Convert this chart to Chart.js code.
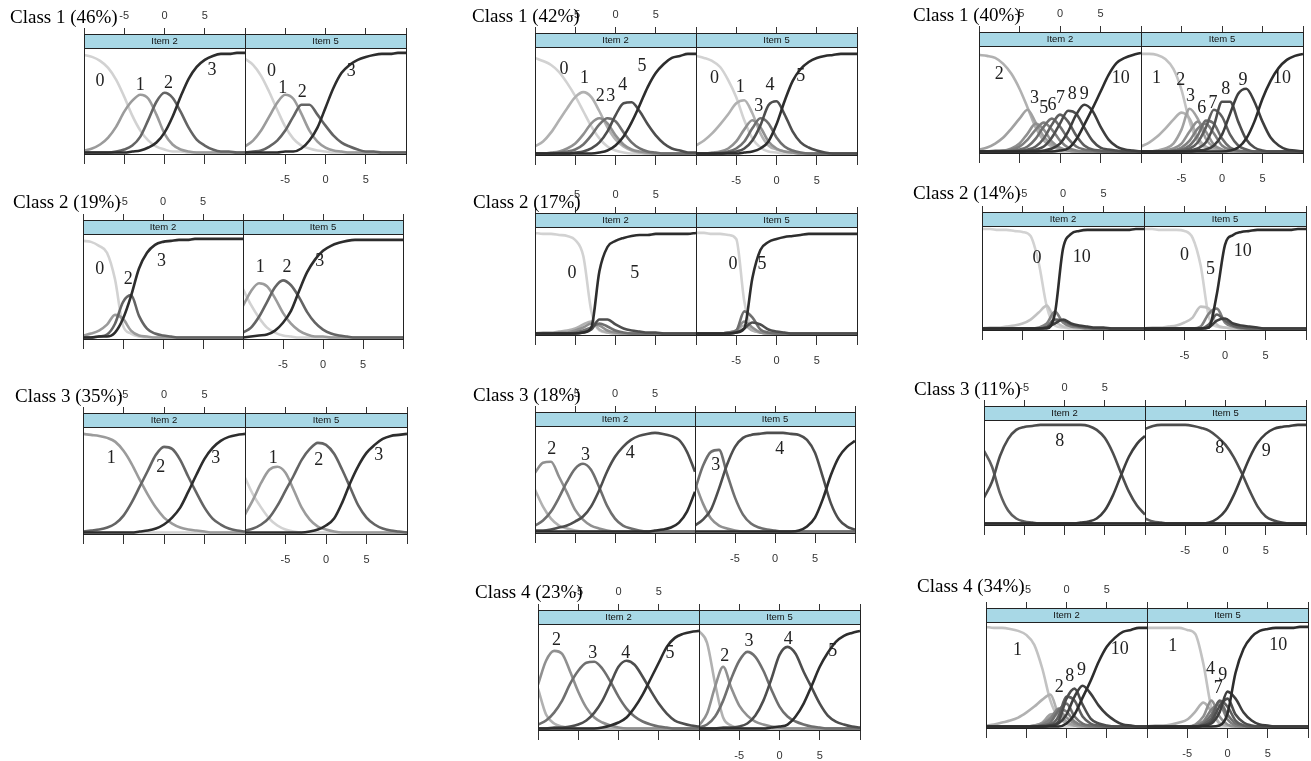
<!DOCTYPE html>
<html>
<head>
<meta charset="utf-8">
<script src="https://cdn.jsdelivr.net/npm/chart.js@4.4.1/dist/chart.umd.min.js"></script>
<style>
  body { margin: 0; background: #fff; width: 1311px; height: 761px; overflow: hidden; position: relative; }
  canvas { position: absolute; }
  .ttl { position: absolute; font-family: 'Liberation Serif', 'Times New Roman', serif; font-size: 19px;
         line-height: 19px; color: #000; white-space: nowrap; z-index: 2; }
</style>
</head>
<body>
<script>
// latent trait grid shared by every curve
const X = [-10,-9,-8,-7,-6,-5,-4,-3,-2,-1,0,1,2,3,4,5,6,7,8,9,10];
const ZERO = [0,0,0,0,0,0,0,0,0,0,0,0,0,0,0,0,0,0,0,0,0];
const stripNames = ['Item 2', 'Item 5'];
const tickShown = [-5, 0, 5];
const classTitles = ['Class 1 (46%)', 'Class 2 (19%)', 'Class 3 (35%)',
  'Class 1 (42%)', 'Class 2 (17%)', 'Class 3 (18%)', 'Class 4 (23%)',
  'Class 1 (40%)', 'Class 2 (14%)', 'Class 3 (11%)', 'Class 4 (34%)'];

// ---- left column, categories 0-3 ----
const a1_i2 = [
  [0, [0.98,0.96,0.92,0.85,0.73,0.56,0.37,0.22,0.12,0.06,0.03,0.01,0.01,0,0,0,0,0,0,0,0]],
  [1, [0.02,0.04,0.08,0.15,0.26,0.41,0.52,0.58,0.54,0.38,0.19,0.08,0.03,0.01,0,0,0,0,0,0,0]],
  [2, [0,0,0,0,0.01,0.03,0.07,0.16,0.33,0.51,0.60,0.55,0.41,0.25,0.13,0.07,0.03,0.01,0.01,0,0]],
  [3, [0,0,0,0,0,0,0.01,0.02,0.05,0.10,0.20,0.36,0.56,0.74,0.86,0.93,0.97,0.99,0.99,1,1]]
];
const a1_i2_lab = [['0',-8,0.72],['1',-3,0.68],['2',0.5,0.70],['3',5.9,0.83]];
const a1_i5 = [
  [0, [0.94,0.88,0.77,0.61,0.43,0.26,0.14,0.07,0.04,0.02,0.01,0,0,0,0,0,0,0,0,0,0]],
  [1, [0.06,0.12,0.22,0.36,0.50,0.58,0.54,0.39,0.22,0.11,0.05,0.02,0.01,0,0,0,0,0,0,0,0]],
  [2, [0,0.01,0.02,0.06,0.12,0.22,0.36,0.48,0.48,0.38,0.27,0.17,0.10,0.06,0.03,0.01,0.01,0,0,0,0]],
  [3, [0,0,0,0,0,0.01,0.01,0.04,0.12,0.25,0.45,0.65,0.80,0.88,0.93,0.96,0.98,0.99,0.99,1,1]]
];
const a1_i5_lab = [['0',-6.7,0.82],['1',-5.3,0.65],['2',-2.9,0.6],['3',3.2,0.82]];

const a2_i2 = [
  [0, [0.98,0.97,0.93,0.86,0.59,0.12,0.04,0.01,0,0,0,0,0,0,0,0,0,0,0,0,0]],
  [1, [0.02,0.04,0.07,0.13,0.23,0.19,0.07,0.02,0.01,0,0,0,0,0,0,0,0,0,0,0,0]],
  [2, [0,0,0.01,0.03,0.14,0.36,0.43,0.22,0.09,0.04,0.02,0.01,0,0,0,0,0,0,0,0,0]],
  [3, [0,0,0.01,0.01,0.05,0.19,0.42,0.70,0.86,0.94,0.97,0.98,0.99,0.99,1,1,1,1,1,1,1]]
];
const a2_i2_lab = [['0',-7.9,0.69],['2',-4.35,0.59],['3',-0.2,0.77]];
const a2_i5 = [
  [0, [0.49,0.33,0.20,0.10,0.05,0.02,0.01,0,0,0,0,0,0,0,0,0,0,0,0,0,0]],
  [1, [0.32,0.47,0.55,0.52,0.40,0.25,0.14,0.07,0.03,0.01,0.01,0,0,0,0,0,0,0,0,0,0]],
  [2, [0.05,0.10,0.21,0.36,0.51,0.58,0.53,0.41,0.26,0.15,0.08,0.04,0.02,0.01,0,0,0,0,0,0,0]],
  [3, [0,0.01,0.02,0.03,0.07,0.15,0.27,0.47,0.66,0.79,0.88,0.93,0.96,0.98,0.99,0.99,0.99,0.99,0.99,0.99,0.99]]
];
const a2_i5_lab = [['1',-7.85,0.71],['2',-4.5,0.71],['3',-0.4,0.77]];

const a3_i2 = [
  [0, ZERO],
  [1, [0.99,0.98,0.97,0.95,0.91,0.82,0.69,0.53,0.38,0.25,0.15,0.09,0.05,0.03,0.02,0.01,0,0,0,0,0]],
  [2, [0.01,0.02,0.03,0.05,0.09,0.17,0.30,0.46,0.62,0.78,0.86,0.84,0.73,0.56,0.40,0.25,0.14,0.08,0.04,0.02,0.01]],
  [3, [0,0,0,0,0,0,0,0.01,0.02,0.04,0.08,0.15,0.25,0.41,0.58,0.74,0.85,0.92,0.96,0.98,0.99]]
];
const a3_i2_lab = [['1',-6.5,0.75],['2',-0.4,0.66],['3',6.4,0.75]];
const a3_i5 = [
  [0, [0.55,0.38,0.25,0.14,0.07,0.03,0.01,0,0,0,0,0,0,0,0,0,0,0,0,0,0]],
  [1, [0.18,0.33,0.50,0.63,0.66,0.60,0.43,0.25,0.13,0.06,0.03,0.01,0,0,0,0,0,0,0,0,0]],
  [2, [0.02,0.04,0.08,0.15,0.27,0.42,0.57,0.73,0.84,0.90,0.88,0.79,0.63,0.45,0.27,0.15,0.08,0.04,0.02,0.01,0]],
  [3, [0,0,0,0,0,0,0,0,0.01,0.03,0.07,0.14,0.30,0.50,0.67,0.80,0.88,0.94,0.97,0.98,0.99]]
];
const a3_i5_lab = [['1',-6.5,0.75],['2',-0.9,0.73],['3',6.5,0.78]];

// ---- middle column, categories 0-5 ----
const b1_i2 = [
  [0, [0.95,0.92,0.88,0.81,0.70,0.57,0.42,0.27,0.15,0.07,0.03,0.01,0,0,0,0,0,0,0,0,0]],
  [1, [0.07,0.12,0.21,0.33,0.45,0.56,0.61,0.56,0.42,0.26,0.14,0.07,0.03,0.01,0,0,0,0,0,0,0]],
  [2, [0,0,0.01,0.02,0.05,0.10,0.19,0.30,0.35,0.30,0.18,0.09,0.04,0.02,0.01,0,0,0,0,0,0]],
  [3, [0,0,0,0.01,0.02,0.04,0.09,0.18,0.29,0.35,0.32,0.21,0.11,0.05,0.02,0.01,0,0,0,0,0]],
  [4, [0,0,0,0,0,0.01,0.02,0.05,0.11,0.22,0.38,0.50,0.51,0.42,0.29,0.18,0.10,0.05,0.03,0.01,0.01]],
  [5, [0,0,0,0,0,0,0,0,0.01,0.03,0.08,0.17,0.31,0.48,0.66,0.80,0.89,0.95,0.97,0.99,0.99]]
];
const b1_i2_lab = [['0',-6.4,0.84],['1',-3.85,0.75],['2',-1.9,0.57],['3',-0.6,0.57],['4',0.9,0.68],['5',3.3,0.87]];
const b1_i5 = [
  [0, [0.97,0.95,0.92,0.86,0.73,0.56,0.33,0.15,0.06,0.02,0.01,0,0,0,0,0,0,0,0,0,0]],
  [1, [0.08,0.13,0.20,0.29,0.39,0.50,0.53,0.40,0.20,0.08,0.04,0.02,0.01,0,0,0,0,0,0,0,0]],
  [2, [0,0,0.01,0.02,0.05,0.12,0.24,0.33,0.26,0.12,0.05,0.02,0.01,0,0,0,0,0,0,0,0]],
  [3, [0,0,0,0.01,0.02,0.05,0.12,0.25,0.35,0.30,0.16,0.07,0.03,0.01,0,0,0,0,0,0,0]],
  [4, [0,0,0,0,0.01,0.02,0.05,0.13,0.28,0.48,0.52,0.39,0.22,0.11,0.06,0.03,0.01,0,0,0,0]],
  [5, [0,0,0,0,0,0,0.01,0.02,0.05,0.12,0.29,0.52,0.72,0.84,0.91,0.95,0.97,0.98,0.99,0.99,0.99]]
];
const b1_i5_lab = [['0',-7.7,0.75],['1',-4.5,0.66],['3',-2.2,0.47],['4',-0.8,0.68],['5',3.0,0.77]];

const b2_i2 = [
  [0, [1,0.99,0.99,0.98,0.97,0.93,0.77,0.22,0.03,0.01,0,0,0,0,0,0,0,0,0,0,0]],
  [1, [0,0.01,0.01,0.02,0.03,0.05,0.09,0.12,0.04,0.01,0,0,0,0,0,0,0,0,0,0,0]],
  [2, [0,0,0,0.01,0.01,0.03,0.06,0.10,0.08,0.03,0.01,0,0,0,0,0,0,0,0,0,0]],
  [3, [0,0,0,0,0,0.01,0.03,0.06,0.10,0.07,0.03,0.01,0,0,0,0,0,0,0,0,0]],
  [4, [0,0,0,0,0,0,0.01,0.04,0.14,0.14,0.09,0.05,0.03,0.02,0.01,0.01,0,0,0,0,0]],
  [5, [0,0,0,0,0,0,0.01,0.06,0.62,0.86,0.92,0.95,0.97,0.98,0.98,0.99,0.99,0.99,0.99,0.99,1]]
];
const b2_i2_lab = [['0',-5.4,0.6],['5',2.4,0.6]];
const b2_i5 = [
  [0, [1,1,0.99,0.99,0.98,0.94,0.32,0.04,0.01,0,0,0,0,0,0,0,0,0,0,0,0]],
  [1, [0,0,0,0,0.01,0.03,0.08,0.03,0.01,0,0,0,0,0,0,0,0,0,0,0,0]],
  [2, [0,0,0,0,0.01,0.03,0.12,0.06,0.01,0,0,0,0,0,0,0,0,0,0,0,0]],
  [3, [0,0,0,0,0.01,0.03,0.22,0.16,0.04,0.01,0,0,0,0,0,0,0,0,0,0,0]],
  [4, [0,0,0,0,0,0.01,0.05,0.11,0.09,0.04,0.02,0.01,0,0,0,0,0,0,0,0,0]],
  [5, [0,0,0,0,0,0.01,0.05,0.55,0.83,0.91,0.94,0.96,0.97,0.98,0.99,0.99,0.99,0.99,0.99,0.99,0.99]]
];
const b2_i5_lab = [['0',-5.4,0.69],['5',-1.8,0.69]];

const b3_i2 = [
  [0, ZERO],
  [1, [0.42,0.25,0.13,0.06,0.03,0.01,0,0,0,0,0,0,0,0,0,0,0,0,0,0,0]],
  [2, [0.59,0.69,0.70,0.55,0.39,0.22,0.12,0.06,0.03,0.01,0,0,0,0,0,0,0,0,0,0,0]],
  [3, [0.06,0.11,0.20,0.34,0.50,0.63,0.68,0.62,0.45,0.26,0.13,0.06,0.03,0.01,0,0,0,0,0,0,0]],
  [4, [0.01,0.01,0.02,0.04,0.06,0.10,0.15,0.25,0.41,0.60,0.75,0.85,0.92,0.96,0.98,0.99,0.98,0.96,0.92,0.80,0.60]],
  [5, [0,0,0,0,0,0,0,0,0,0,0,0,0,0,0,0.01,0.02,0.04,0.09,0.20,0.40]]
];
const b3_i2_lab = [['2',-7.9,0.83],['3',-3.7,0.77],['4',1.9,0.79]];
const b3_i5 = [
  [0, ZERO],
  [2, [0.49,0.28,0.13,0.06,0.03,0.01,0,0,0,0,0,0,0,0,0,0,0,0,0,0,0]],
  [3, [0.42,0.66,0.80,0.82,0.58,0.34,0.17,0.08,0.04,0.02,0.01,0,0,0,0,0,0,0,0,0,0]],
  [4, [0.06,0.12,0.22,0.43,0.67,0.85,0.94,0.97,0.98,0.99,0.99,0.99,0.98,0.97,0.92,0.79,0.54,0.28,0.12,0.05,0.02]],
  [5, [0,0,0,0,0,0,0,0,0,0,0,0,0,0.01,0.05,0.14,0.33,0.57,0.75,0.85,0.91]]
];
const b3_i5_lab = [['3',-7.4,0.67],['4',0.6,0.83]];

const b4_i2 = [
  [0, ZERO],
  [1, [0.40,0.14,0.05,0.02,0.01,0,0,0,0,0,0,0,0,0,0,0,0,0,0,0,0]],
  [2, [0.44,0.68,0.78,0.75,0.57,0.37,0.21,0.11,0.06,0.03,0.01,0,0,0,0,0,0,0,0,0,0]],
  [3, [0.04,0.08,0.16,0.28,0.45,0.58,0.66,0.67,0.60,0.47,0.32,0.20,0.12,0.07,0.04,0.02,0.01,0,0,0,0]],
  [4, [0,0,0.01,0.01,0.02,0.04,0.08,0.16,0.28,0.45,0.62,0.68,0.64,0.52,0.38,0.25,0.15,0.08,0.05,0.03,0.02]],
  [5, [0,0,0,0,0,0,0,0,0.01,0.03,0.06,0.11,0.21,0.34,0.50,0.66,0.82,0.91,0.95,0.97,0.98]]
];
const b4_i2_lab = [['2',-7.7,0.89],['3',-3.2,0.76],['4',0.9,0.76],['5',6.4,0.76]];
const b4_i5 = [
  [0, ZERO],
  [1, [0.98,0.86,0.45,0.11,0.03,0.01,0,0,0,0,0,0,0,0,0,0,0,0,0,0,0]],
  [2, [0.03,0.15,0.42,0.62,0.41,0.23,0.13,0.07,0.04,0.02,0.01,0,0,0,0,0,0,0,0,0,0]],
  [3, [0.01,0.04,0.12,0.28,0.50,0.68,0.77,0.72,0.58,0.39,0.22,0.12,0.07,0.04,0.02,0.01,0,0,0,0,0]],
  [4, [0,0,0,0.01,0.01,0.02,0.05,0.13,0.28,0.50,0.74,0.82,0.75,0.57,0.41,0.25,0.13,0.07,0.04,0.02,0.01]],
  [5, [0,0,0,0,0,0,0,0,0,0.01,0.02,0.04,0.12,0.25,0.43,0.62,0.76,0.87,0.93,0.96,0.98]]
];
const b4_i5_lab = [['2',-6.8,0.73],['3',-3.8,0.88],['4',1.1,0.9],['5',6.6,0.78]];

// ---- right column, categories 0-10 ----
const c1_i2 = [
  [0, ZERO], [1, ZERO],
  [2, [0.97,0.96,0.94,0.88,0.78,0.63,0.44,0.24,0.11,0.05,0.02,0.01,0,0,0,0,0,0,0,0,0]],
  [3, [0.02,0.04,0.08,0.14,0.23,0.33,0.42,0.29,0.15,0.07,0.03,0.01,0,0,0,0,0,0,0,0,0]],
  [4, [0,0,0.01,0.01,0.03,0.08,0.18,0.28,0.22,0.10,0.04,0.01,0,0,0,0,0,0,0,0,0]],
  [5, [0,0,0,0.01,0.02,0.05,0.12,0.22,0.29,0.22,0.11,0.04,0.01,0,0,0,0,0,0,0,0]],
  [6, [0,0,0,0,0.01,0.02,0.05,0.13,0.25,0.33,0.25,0.13,0.05,0.02,0.01,0,0,0,0,0,0]],
  [7, [0,0,0,0,0,0.01,0.02,0.05,0.13,0.27,0.37,0.30,0.16,0.06,0.02,0.01,0,0,0,0,0]],
  [8, [0,0,0,0,0,0,0.01,0.02,0.05,0.14,0.28,0.41,0.38,0.24,0.11,0.04,0.02,0.01,0,0,0]],
  [9, [0,0,0,0,0,0,0,0,0.01,0.03,0.08,0.20,0.37,0.47,0.41,0.25,0.12,0.05,0.02,0.01,0]],
  [10, [0,0,0,0,0,0,0,0,0,0,0.01,0.03,0.12,0.27,0.43,0.60,0.77,0.89,0.94,0.97,0.99]]
];
const c1_i2_lab = [['2',-7.5,0.78],['3',-3.15,0.53],['5',-2.0,0.43],['6',-1.0,0.46],['7',0.05,0.53],
  ['8',1.5,0.57],['9',3.0,0.57],['10',7.5,0.74]];
const c1_i5 = [
  [0, ZERO],
  [1, [0.98,0.98,0.97,0.93,0.83,0.62,0.30,0.10,0.04,0.02,0.01,0,0,0,0,0,0,0,0,0,0]],
  [2, [0.05,0.09,0.15,0.23,0.32,0.39,0.33,0.14,0.05,0.02,0.01,0,0,0,0,0,0,0,0,0,0]],
  [3, [0,0,0.01,0.03,0.08,0.22,0.43,0.33,0.13,0.04,0.01,0,0,0,0,0,0,0,0,0,0]],
  [4, [0,0,0,0.01,0.03,0.08,0.20,0.30,0.20,0.07,0.02,0,0,0,0,0,0,0,0,0,0]],
  [5, [0,0,0,0,0.01,0.04,0.11,0.23,0.28,0.18,0.06,0.02,0,0,0,0,0,0,0,0,0]],
  [6, [0,0,0,0,0.01,0.02,0.06,0.16,0.31,0.28,0.13,0.04,0.01,0,0,0,0,0,0,0,0]],
  [7, [0,0,0,0,0,0.01,0.03,0.09,0.24,0.42,0.35,0.17,0.06,0.02,0,0,0,0,0,0,0]],
  [8, [0,0,0,0,0,0,0.01,0.03,0.09,0.26,0.50,0.50,0.30,0.12,0.04,0.01,0,0,0,0,0]],
  [9, [0,0,0,0,0,0,0,0.01,0.02,0.06,0.17,0.38,0.58,0.63,0.50,0.30,0.14,0.06,0.02,0.01,0]],
  [10, [0,0,0,0,0,0,0,0,0,0,0,0.01,0.04,0.13,0.30,0.53,0.71,0.84,0.92,0.96,0.98]]
];
const c1_i5_lab = [['1',-8.1,0.74],['2',-5.1,0.72],['3',-3.9,0.55],['6',-2.5,0.43],['7',-1.1,0.48],
  ['8',0.45,0.62],['9',2.6,0.72],['10',7.4,0.74]];

const c2_i2 = [
  [0, [1,1,0.99,0.99,0.98,0.97,0.93,0.66,0.22,0.03,0.01,0,0,0,0,0,0,0,0,0,0]],
  [1, [0,0.01,0.01,0.02,0.03,0.05,0.09,0.16,0.23,0.08,0.02,0.01,0,0,0,0,0,0,0,0,0]],
  [5, [0,0,0,0,0,0,0,0.01,0.05,0.17,0.06,0.02,0.01,0,0,0,0,0,0,0,0]],
  [7, [0,0,0,0,0,0,0,0,0.02,0.09,0.08,0.04,0.02,0.01,0,0,0,0,0,0,0]],
  [9, [0,0,0,0,0,0,0,0,0.01,0.05,0.09,0.05,0.03,0.02,0.01,0.01,0,0,0,0,0]],
  [10, [0,0,0,0,0,0,0,0,0,0.15,0.80,0.95,0.98,0.99,0.99,0.99,0.99,0.99,0.99,1,1]]
];
const c2_i2_lab = [['0',-3.2,0.71],['10',2.3,0.72]];
const c2_i5 = [
  [0, [1,1,0.99,0.99,0.99,0.98,0.91,0.63,0.12,0.02,0.01,0,0,0,0,0,0,0,0,0,0]],
  [1, [0,0.01,0.01,0.02,0.03,0.06,0.11,0.22,0.20,0.04,0.01,0,0,0,0,0,0,0,0,0,0]],
  [5, [0,0,0,0,0,0,0,0.02,0.15,0.20,0.06,0.02,0,0,0,0,0,0,0,0,0]],
  [7, [0,0,0,0,0,0,0,0,0.04,0.14,0.08,0.03,0.01,0,0,0,0,0,0,0,0]],
  [9, [0,0,0,0,0,0,0,0,0.01,0.08,0.10,0.05,0.03,0.02,0.01,0,0,0,0,0,0]],
  [10, [0,0,0,0,0,0,0,0,0.01,0.35,0.84,0.94,0.97,0.98,0.99,0.99,0.99,0.99,0.99,1,1]]
];
const c2_i5_lab = [['0',-5.0,0.74],['5',-1.8,0.59],['10',2.2,0.78]];

const c3_i2 = [
  [0, ZERO], [10, ZERO],
  [7, [0.73,0.57,0.30,0.13,0.05,0.02,0.01,0,0,0,0,0,0,0,0,0,0,0,0,0,0]],
  [8, [0.26,0.42,0.68,0.85,0.94,0.97,0.98,0.99,0.99,0.99,0.99,0.99,0.99,0.98,0.94,0.86,0.71,0.51,0.32,0.18,0.09]],
  [9, [0,0,0,0,0,0,0,0,0,0,0,0,0.01,0.02,0.05,0.13,0.28,0.48,0.67,0.80,0.88]]
];
const c3_i2_lab = [['8',-0.6,0.83]];
const c3_i5 = [
  [0, ZERO], [10, ZERO],
  [7, [0.05,0.02,0.01,0,0,0,0,0,0,0,0,0,0,0,0,0,0,0,0,0,0]],
  [8, [0.95,0.98,0.99,0.99,0.99,0.99,0.98,0.96,0.93,0.87,0.79,0.67,0.51,0.33,0.17,0.07,0.03,0.01,0,0,0]],
  [9, [0,0,0,0,0,0,0,0,0.01,0.05,0.13,0.28,0.47,0.66,0.81,0.90,0.95,0.97,0.98,0.99,0.99]]
];
const c3_i5_lab = [['8',-0.7,0.76],['9',5.05,0.73]];

const c4_i2 = [
  [0, ZERO],
  [1, [1,0.99,0.99,0.98,0.96,0.92,0.82,0.58,0.26,0.09,0.03,0.01,0,0,0,0,0,0,0,0,0]],
  [2, [0.01,0.02,0.04,0.06,0.09,0.14,0.20,0.27,0.32,0.12,0.03,0.01,0,0,0,0,0,0,0,0,0]],
  [3, [0,0,0,0,0,0,0.01,0.04,0.12,0.13,0.05,0.01,0,0,0,0,0,0,0,0,0]],
  [4, [0,0,0,0,0,0,0.01,0.03,0.09,0.16,0.09,0.03,0.01,0,0,0,0,0,0,0,0]],
  [5, [0,0,0,0,0,0,0,0.02,0.07,0.18,0.15,0.05,0.01,0,0,0,0,0,0,0,0]],
  [6, [0,0,0,0,0,0,0,0.01,0.04,0.16,0.23,0.10,0.03,0.01,0,0,0,0,0,0,0]],
  [7, [0,0,0,0,0,0,0,0.01,0.02,0.10,0.30,0.26,0.10,0.03,0.01,0,0,0,0,0,0]],
  [8, [0,0,0,0,0,0,0,0,0.01,0.05,0.28,0.38,0.22,0.08,0.03,0.01,0,0,0,0,0]],
  [9, [0,0,0,0,0,0,0,0,0.01,0.03,0.12,0.30,0.41,0.33,0.21,0.12,0.06,0.02,0.01,0,0]],
  [10, [0,0,0,0,0,0,0,0,0,0,0.03,0.12,0.29,0.46,0.65,0.80,0.89,0.95,0.97,0.99,0.99]]
];
const c4_i2_lab = [['1',-6.1,0.77],['2',-0.9,0.39],['8',0.4,0.5],['9',1.85,0.56],['10',6.6,0.78]];
const c4_i5 = [
  [0, ZERO],
  [1, [0.99,0.99,0.99,0.99,0.99,0.97,0.93,0.63,0.19,0.04,0.01,0,0,0,0,0,0,0,0,0,0]],
  [2, [0,0.01,0.01,0.02,0.04,0.07,0.15,0.24,0.15,0.03,0.01,0,0,0,0,0,0,0,0,0,0]],
  [4, [0,0,0,0,0,0,0.02,0.10,0.26,0.10,0.02,0,0,0,0,0,0,0,0,0,0]],
  [5, [0,0,0,0,0,0,0.01,0.05,0.17,0.22,0.07,0.01,0,0,0,0,0,0,0,0,0]],
  [6, [0,0,0,0,0,0,0,0.03,0.12,0.25,0.12,0.03,0.01,0,0,0,0,0,0,0,0]],
  [7, [0,0,0,0,0,0,0,0.02,0.08,0.26,0.20,0.06,0.01,0,0,0,0,0,0,0,0]],
  [8, [0,0,0,0,0,0,0,0.01,0.05,0.20,0.28,0.12,0.04,0.01,0,0,0,0,0,0,0]],
  [9, [0,0,0,0,0,0,0,0.01,0.03,0.14,0.35,0.28,0.14,0.06,0.02,0.01,0,0,0,0,0]],
  [10, [0,0,0,0,0,0,0,0,0,0.01,0.13,0.54,0.78,0.90,0.96,0.98,0.99,0.99,0.99,1,1]]
];
const c4_i5_lab = [['1',-6.8,0.81],['4',-2.1,0.57],['7',-1.15,0.38],['9',-0.6,0.51],['10',6.3,0.82]];

// page layout: one block per class (title spot, panel left edge/width, strip top, y of p=1 and p=0)
const blocks = [
  { title: 0,  tx: 10,  ty: 17,  left: 84,  w: 161, strip: 34,  one: 53,  base: 153, n: 4,  items: [[a1_i2, a1_i2_lab], [a1_i5, a1_i5_lab]] },
  { title: 1,  tx: 13,  ty: 202, left: 83,  w: 160, strip: 220, one: 239, base: 338, n: 4,  items: [[a2_i2, a2_i2_lab], [a2_i5, a2_i5_lab]] },
  { title: 2,  tx: 15,  ty: 396, left: 83,  w: 162, strip: 413, one: 433, base: 533, n: 4,  items: [[a3_i2, a3_i2_lab], [a3_i5, a3_i5_lab]] },
  { title: 3,  tx: 472, ty: 16,  left: 535, w: 161, strip: 33,  one: 53,  base: 154, n: 6,  items: [[b1_i2, b1_i2_lab], [b1_i5, b1_i5_lab]] },
  { title: 4,  tx: 473, ty: 202, left: 535, w: 161, strip: 213, one: 233, base: 334, n: 6,  items: [[b2_i2, b2_i2_lab], [b2_i5, b2_i5_lab]] },
  { title: 5,  tx: 473, ty: 395, left: 535, w: 160, strip: 412, one: 432, base: 532, n: 6,  items: [[b3_i2, b3_i2_lab], [b3_i5, b3_i5_lab]] },
  { title: 6,  tx: 475, ty: 592, left: 538, w: 161, strip: 610, one: 629, base: 729, n: 6,  items: [[b4_i2, b4_i2_lab], [b4_i5, b4_i5_lab]] },
  { title: 7,  tx: 913, ty: 15,  left: 979, w: 162, strip: 32,  one: 52,  base: 152, n: 11, items: [[c1_i2, c1_i2_lab], [c1_i5, c1_i5_lab]] },
  { title: 8,  tx: 913, ty: 193, left: 982, w: 162, strip: 212, one: 229, base: 329, n: 11, items: [[c2_i2, c2_i2_lab], [c2_i5, c2_i5_lab]] },
  { title: 9,  tx: 914, ty: 389, left: 984, w: 161, strip: 406, one: 424, base: 524, n: 11, items: [[c3_i2, c3_i2_lab], [c3_i5, c3_i5_lab]] },
  { title: 10, tx: 917, ty: 586, left: 986, w: 161, strip: 608, one: 627, base: 727, n: 11, items: [[c4_i2, c4_i2_lab], [c4_i5, c4_i5_lab]] }
];

// side padding must exceed the tick padding or Chart.js shrinks the plot area
const STRIP_H = 14, PADX = 14, TOP_H = 40, BOT_H = 44;

function shade(k, n) {
  const v = Math.round(210 - 165 * k / (n - 1));
  return 'rgb(' + v + ',' + v + ',' + v + ')';
}

// strip, frame and curve numbers
const panelDeco = {
  id: 'panelDeco',
  afterDatasetsDraw(chart, args, opts) {
    const { ctx, chartArea: a, scales } = chart;
    ctx.save();
    ctx.fillStyle = '#a8d8e6';
    ctx.fillRect(a.left, a.top, a.right - a.left, STRIP_H);
    ctx.strokeStyle = '#222';
    ctx.lineWidth = 1;
    ctx.strokeRect(Math.round(a.left) + 0.5, Math.round(a.top) + 0.5, Math.round(a.right - a.left), STRIP_H);
    ctx.strokeRect(Math.round(a.left) + 0.5, Math.round(a.top) + 0.5,
                   Math.round(a.right - a.left), Math.round(a.bottom - a.top) - 1);
    ctx.fillStyle = '#111';
    ctx.font = '9.5px "Liberation Sans", Arial, sans-serif';
    ctx.textAlign = 'center';
    ctx.textBaseline = 'middle';
    ctx.fillText(opts.strip, (a.left + a.right) / 2, a.top + STRIP_H / 2 + 0.5);
    ctx.fillStyle = '#222';
    ctx.font = '18px "Liberation Serif", "Times New Roman", serif';
    opts.labels.forEach(([t, x, y]) => {
      ctx.fillText(t, scales.x.getPixelForValue(x), scales.y.getPixelForValue(y));
    });
    ctx.restore();
  }
};

function xAxis(pos, showLabels) {
  return {
    type: 'linear', position: pos, min: -10, max: 10,
    afterFit: s => { s.height = pos === 'top' ? TOP_H : BOT_H; },
    ticks: {
      stepSize: 5, autoSkip: false, maxRotation: 0, minRotation: 0,
      padding: pos === 'top' ? 5 : 9,
      color: showLabels ? '#333' : 'rgba(0,0,0,0)',
      font: { family: '"Liberation Sans", Arial, sans-serif', size: 11 },
      callback: v => tickShown.includes(v) ? String(v) : ''
    },
    grid: { drawOnChartArea: false, drawTicks: true, tickLength: pos === 'top' ? 6 : 9, color: '#333', lineWidth: 1 },
    border: { display: false }
  };
}

blocks.forEach(b => {
  const t = document.createElement('div');
  t.className = 'ttl';
  t.textContent = classTitles[b.title];
  t.style.left = b.tx + 'px';
  t.style.top = (b.ty - 10) + 'px';
  document.body.appendChild(t);

  const unit = b.base - b.one;
  b.items.forEach(([series, labels], side) => {
    const cv = document.createElement('canvas');
    const areaH = b.base + 2.5 - b.strip;
    cv.width = b.w + 2 * PADX;
    cv.height = TOP_H + areaH + BOT_H;
    cv.style.left = (b.left + side * b.w - PADX) + 'px';
    cv.style.top = (b.strip - TOP_H) + 'px';
    document.body.appendChild(cv);

    new Chart(cv, {
      type: 'line',
      data: {
        datasets: series.map(([k, ys]) => ({
          data: ys.map((y, i) => ({ x: X[i], y: y })),
          borderColor: shade(k, b.n),
          borderWidth: 2.6,
          pointRadius: 0,
          fill: false,
          cubicInterpolationMode: 'monotone',
          order: b.n - k
        }))
      },
      options: {
        responsive: false,
        animation: false,
        events: [],
        layout: { autoPadding: false, padding: { left: PADX, right: PADX, top: 0, bottom: 0 } },
        plugins: {
          legend: { display: false },
          tooltip: { enabled: false },
          panelDeco: { strip: stripNames[side], labels: labels }
        },
        scales: {
          x: xAxis('bottom', side === 1),
          xt: xAxis('top', side === 0),
          y: { display: false, min: -2.5 / unit, max: (b.base - b.strip) / unit }
        }
      },
      plugins: [panelDeco]
    });
  });
});
</script>
</body>
</html>
